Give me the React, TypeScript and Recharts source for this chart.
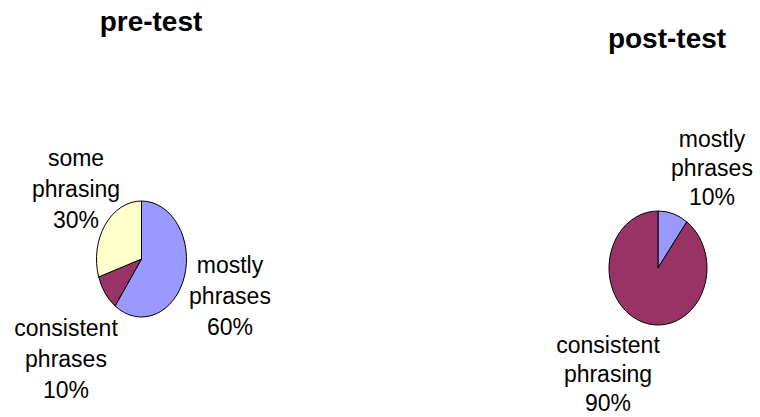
import React from "react";
import { Pie, PieChart } from "recharts";

const preCategories = ["mostly phrases", "consistent phrases", "some phrasing"];
const preValues = [60, 10, 30];
const postCategories = ["mostly phrases", "consistent phrasing"];
const postValues = [10, 90];
const titles = ["pre-test", "post-test"];

const sliceColors: Record<string, string> = {
  mostly: "#9999ff",
  consistent: "#993366",
  some: "#ffffcc",
};

const FONT = "'Liberation Sans', Arial, Helvetica, sans-serif";

// label block offsets from the pie centre (x = text centre, y = baseline of middle line)
const preLabelOffsets = [
  [88.5, 45],
  [-75.5, 108],
  [-65.5, -62],
];
const postLabelOffsets = [
  [54, -92],
  [-50, 114],
];

const toRows = (cats: string[], vals: number[]) =>
  cats.map((name, i) => ({
    name,
    value: vals[i],
    fill: sliceColors[name.split(" ")[0]],
  }));

const preData = toRows(preCategories, preValues);
const postData = toRows(postCategories, postValues);

// pies are drawn squashed horizontally, so sectors are elliptical
function ellipseShape(sx: number) {
  return (props: any) => {
    const { cx, cy, outerRadius, startAngle, endAngle, fill } = props;
    const rx = outerRadius * sx;
    const ry = outerRadius;
    const rad = Math.PI / 180;
    const x0 = cx + rx * Math.cos(startAngle * rad);
    const y0 = cy - ry * Math.sin(startAngle * rad);
    const x1 = cx + rx * Math.cos(endAngle * rad);
    const y1 = cy - ry * Math.sin(endAngle * rad);
    const large = Math.abs(endAngle - startAngle) > 180 ? 1 : 0;
    const sweep = endAngle < startAngle ? 1 : 0;
    const d = `M${cx},${cy} L${x0},${y0} A${rx},${ry} 0 ${large} ${sweep} ${x1},${y1} Z`;
    return <path d={d} fill={fill} stroke="#000" strokeWidth={1} strokeLinejoin="round" />;
  };
}

function labelRenderer(offsets: number[][], lineGap: number) {
  return (props: any) => {
    const { cx, cy, index, name, value } = props;
    const [dx, dy] = offsets[index];
    const lines = [...String(name).split(" "), `${value}%`];
    const x = cx + dx;
    return (
      <text x={x} textAnchor="middle" fontSize={23} fontFamily={FONT} fill="#000">
        {lines.map((ln, i) => (
          <tspan key={i} x={x} y={cy + dy + (i - 1) * lineGap}>
            {ln}
          </tspan>
        ))}
      </text>
    );
  };
}

export default function App() {
  return (
    <div style={{ position: "absolute", left: 0, top: 0, width: 760, height: 417, background: "#fff" }}>
      <PieChart width={760} height={417} margin={{ top: 0, right: 0, bottom: 0, left: 0 }}>
        <Pie
          data={preData}
          dataKey="value"
          nameKey="name"
          cx={141.5}
          cy={259}
          outerRadius={58}
          startAngle={90}
          endAngle={-270}
          shape={ellipseShape(45 / 58)}
          label={labelRenderer(preLabelOffsets, 31)}
          labelLine={false}
          isAnimationActive={false}
        />
        <Pie
          data={postData}
          dataKey="value"
          nameKey="name"
          cx={658}
          cy={268}
          outerRadius={57}
          startAngle={90}
          endAngle={-270}
          shape={ellipseShape(49 / 57)}
          label={labelRenderer(postLabelOffsets, 29)}
          labelLine={false}
          isAnimationActive={false}
        />
      </PieChart>
      <svg width={760} height={417} style={{ position: "absolute", left: 0, top: 0, pointerEvents: "none" }}>
        <text x={151} y={31} textAnchor="middle" fontSize={28} fontWeight="bold" fontFamily={FONT}>
          {titles[0]}
        </text>
        <text x={667} y={48} textAnchor="middle" fontSize={28} fontWeight="bold" fontFamily={FONT}>
          {titles[1]}
        </text>
      </svg>
    </div>
  );
}
